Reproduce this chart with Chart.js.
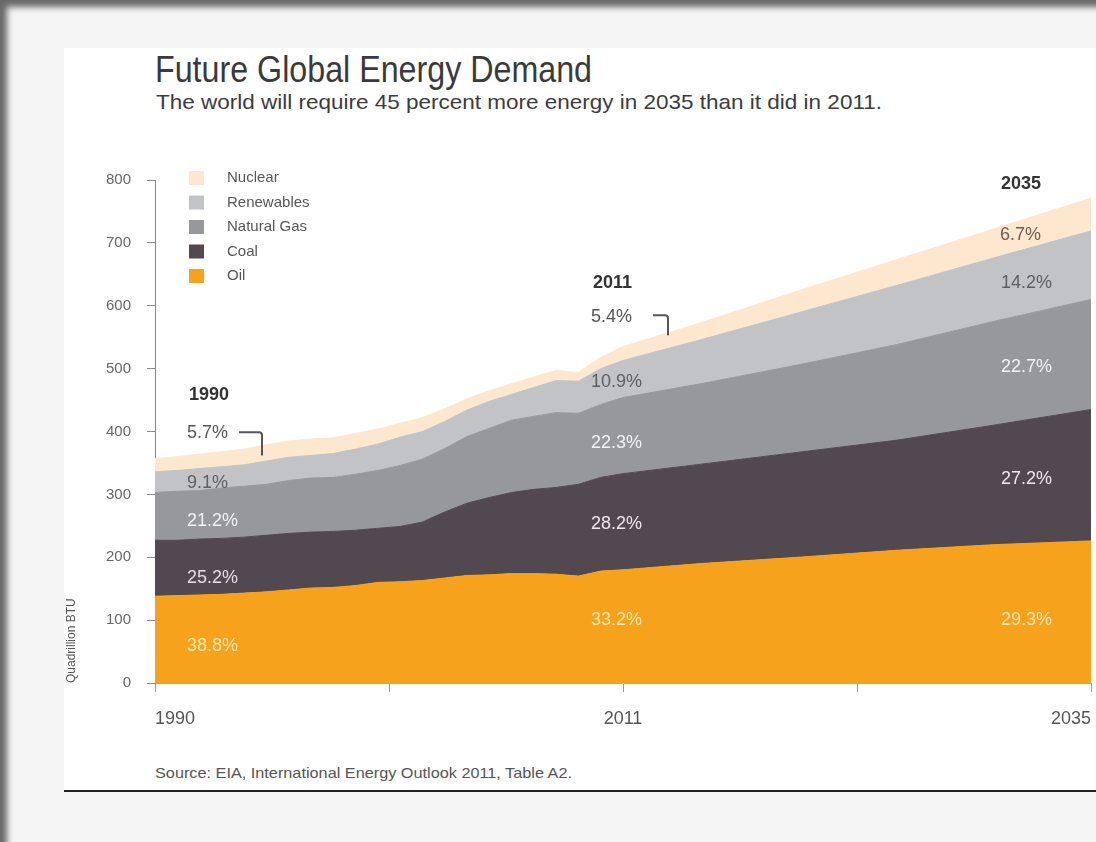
<!DOCTYPE html>
<html>
<head>
<meta charset="utf-8">
<title>Future Global Energy Demand</title>
<script src="https://cdn.jsdelivr.net/npm/chart.js@4.4.1/dist/chart.umd.min.js"></script>
<style>
  html, body { margin: 0; padding: 0; width: 1096px; height: 842px; overflow: hidden; background: #f5f5f5; }
  body { font-family: "Liberation Sans", Arial, sans-serif; }
  #frame { position: absolute; left: 0; top: 0; width: 1096px; height: 842px; box-shadow: inset 8px 8px 6px -1px rgba(70,70,70,0.8); }
  #card { position: absolute; left: 64px; top: 48px; width: 1032px; height: 742px; background: #fff; border-bottom: 2px solid #222; }
  .txt { position: absolute; white-space: nowrap; transform-origin: 0 50%; line-height: 1; }
  #title { left: 155px; top: 52px; font-size: 36px; color: #3a3a3a; }
  #subtitle { left: 156px; top: 91px; font-size: 21px; color: #3c3c3c; }
  #source { left: 155px; top: 765px; font-size: 15px; color: #555; }
  #wrap { position: absolute; left: 64px; top: 150px; width: 1043px; height: 580px; }
</style>
</head>
<body>
<div id="frame"></div>
<div id="card"></div>
<div class="txt" id="title">Future Global Energy Demand</div>
<div class="txt" id="subtitle">The world will require 45 percent more energy in 2035 than it did in 2011.</div>
<div class="txt" id="source">Source: EIA, International Energy Outlook 2011, Table A2.</div>
<div id="wrap"><canvas id="chart"></canvas></div>
<script>
// quadrillion BTU
const years = [1990, 1991, 1992, 1993, 1994, 1995, 1996, 1997, 1998, 1999, 2000,
  2001, 2002, 2003, 2004, 2005, 2006, 2007, 2008, 2009, 2010, 2011,
  2015, 2020, 2025, 2030, 2035];
const oil = [138, 139, 140, 141, 143, 145, 148, 151, 152, 155, 160,
  161, 163, 167, 171, 172, 174, 174, 173, 170, 178, 180,
  190, 200, 211, 220, 226];
const coal = [89, 88, 89, 89, 89, 90, 90, 89, 89, 88, 86,
  88, 93, 105, 115, 123, 129, 134, 138, 146, 149, 153,
  158, 167, 175, 190, 209];
const gas = [76, 78, 77, 80, 81, 81, 84, 86, 86, 89, 92,
  97, 100, 101, 106, 110, 115, 116, 119, 113, 116, 121,
  128, 139, 152, 165, 175];
const renewables = [33, 33, 35, 34, 34, 37, 37, 36, 38, 40, 42,
  45, 44, 43, 42, 43, 41, 46, 51, 51, 57, 59,
  70, 83, 94, 101, 109];
const nuclear = [21, 22, 23, 24, 25, 26, 26, 26, 25, 25, 24,
  22, 22, 20, 18, 17, 17, 17, 16, 14, 18, 22,
  27, 35, 41, 46, 52];

const seriesNames = ['Oil', 'Coal', 'Natural Gas', 'Renewables', 'Nuclear'];
const seriesColors = ['#f6a21c', '#524950', '#97989c', '#c2c3c7', '#fde8cf'];
const xTickLabels = ['1990', '', '2011', '', '2035'];

// the axis gives 1990-2011 and 2011-2035 the same width
function axisPos(year) {
  return year <= 2011 ? (year - 1990) / 10.5 : 2 + (year - 2011) / 12;
}

function fitWidth(id, target) {
  const el = document.getElementById(id);
  const w = el.getBoundingClientRect().width;
  el.style.transform = 'scaleX(' + (target / w) + ')';
}
fitWidth('title', 437);
fitWidth('subtitle', 726);
fitWidth('source', 417);

const notes = [
  { year: 1990, dx: 34, v: 458, text: '1990', color: '#333', bold: true },
  { year: 1990, dx: 32, v: 398, text: '5.7%', color: '#555' },
  { year: 1990, dx: 32, v: 318, text: '9.1%', color: '#5e5e63' },
  { year: 1990, dx: 32, v: 258, text: '21.2%', color: '#f2f2f2' },
  { year: 1990, dx: 32, v: 167, text: '25.2%', color: '#e4dfe4' },
  { year: 1990, dx: 32, v: 59, text: '38.8%', color: '#fde7b2' },
  { year: 2011, dx: -30, v: 636, text: '2011', color: '#333', bold: true },
  { year: 2011, dx: -32, v: 582, text: '5.4%', color: '#555' },
  { year: 2011, dx: -32, v: 479, text: '10.9%', color: '#5e5e63' },
  { year: 2011, dx: -32, v: 382, text: '22.3%', color: '#f2f2f2' },
  { year: 2011, dx: -32, v: 253, text: '28.2%', color: '#ece8ec' },
  { year: 2011, dx: -32, v: 100, text: '33.2%', color: '#fde7b2' },
  { year: 2035, dx: -90, v: 793, text: '2035', color: '#333', bold: true },
  { year: 2035, dx: -91, v: 712, text: '6.7%', color: '#6b5d50' },
  { year: 2035, dx: -90, v: 636, text: '14.2%', color: '#5e5e63' },
  { year: 2035, dx: -90, v: 502, text: '22.7%', color: '#f2f2f2' },
  { year: 2035, dx: -90, v: 324, text: '27.2%', color: '#ece8ec' },
  { year: 2035, dx: -90, v: 100, text: '29.3%', color: '#fde7b2' }
];
const brackets = [
  { year: 1990, dx1: 84, dx2: 107, v1: 399, v2: 362 },
  { year: 2011, dx1: 30, dx2: 45, v1: 585, v2: 553 }
];

const notesPlugin = {
  id: 'notes',
  afterDatasetsDraw(chart) {
    const ctx = chart.ctx;
    const xs = chart.scales.x, ys = chart.scales.y;
    ctx.save();
    ctx.textBaseline = 'middle';
    ctx.textAlign = 'left';
    notes.forEach(n => {
      ctx.font = (n.bold ? 'bold ' : '') + '18px "Liberation Sans", Arial, sans-serif';
      ctx.fillStyle = n.color;
      ctx.fillText(n.text, xs.getPixelForValue(axisPos(n.year)) + n.dx, ys.getPixelForValue(n.v));
    });
    ctx.strokeStyle = '#555';
    ctx.lineWidth = 2;
    brackets.forEach(b => {
      const x0 = xs.getPixelForValue(axisPos(b.year));
      const y1 = ys.getPixelForValue(b.v1), y2 = ys.getPixelForValue(b.v2);
      ctx.beginPath();
      ctx.moveTo(x0 + b.dx1, y1);
      ctx.lineTo(x0 + b.dx2 - 3, y1);
      ctx.quadraticCurveTo(x0 + b.dx2, y1, x0 + b.dx2, y1 + 3);
      ctx.lineTo(x0 + b.dx2, y2);
      ctx.stroke();
    });
    ctx.restore();
  }
};

const legendPlugin = {
  id: 'cornerLegend',
  afterDraw(chart) {
    const ctx = chart.ctx, area = chart.chartArea;
    ctx.save();
    ctx.font = '15px "Liberation Sans", Arial, sans-serif';
    ctx.textBaseline = 'middle';
    for (let i = 0; i < seriesNames.length; i++) {
      const k = seriesNames.length - 1 - i;
      const y = area.top - 2 + i * 24.5;
      ctx.fillStyle = seriesColors[k];
      ctx.fillRect(area.left + 34, y - 7, 15, 14);
      ctx.fillStyle = '#555';
      ctx.fillText(seriesNames[k], area.left + 72, y);
    }
    ctx.restore();
  }
};

const datasets = [oil, coal, gas, renewables, nuclear].map((values, i) => ({
  label: seriesNames[i],
  data: values.map((v, j) => ({ x: axisPos(years[j]), y: v })),
  backgroundColor: seriesColors[i],
  borderColor: seriesColors[i],
  borderWidth: 1,
  pointRadius: 0,
  tension: 0,
  fill: i === 0 ? 'origin' : '-1'
}));

new Chart(document.getElementById('chart'), {
  type: 'line',
  data: { datasets: datasets },
  options: {
    responsive: true,
    maintainAspectRatio: false,
    animation: false,
    layout: { padding: { top: 30, right: 3, left: 0, bottom: 0 } },
    plugins: { legend: { display: false }, tooltip: { enabled: false } },
    scales: {
      x: {
        type: 'linear',
        min: 0,
        max: 4,
        afterFit: s => { s.height = 47; },
        ticks: {
          stepSize: 1,
          align: 'inner',
          padding: 16,
          color: '#555',
          font: { size: 18, family: '"Liberation Sans", Arial, sans-serif' },
          callback: v => xTickLabels[v]
        },
        grid: { drawOnChartArea: false, tickLength: 9, color: '#999' },
        border: { color: '#aaa' }
      },
      y: {
        stacked: true,
        min: 0,
        max: 800,
        afterFit: s => { s.width = 91; },
        ticks: {
          stepSize: 100,
          padding: 16,
          color: '#666',
          font: { size: 15, family: '"Liberation Sans", Arial, sans-serif' }
        },
        grid: { drawOnChartArea: false, tickLength: 8, color: '#888' },
        border: { color: '#888' },
        title: {
          display: true,
          text: 'Quadrillion BTU',
          align: 'start',
          color: '#555',
          padding: 0,
          font: { size: 12, family: '"Liberation Sans", Arial, sans-serif' }
        }
      }
    }
  },
  plugins: [notesPlugin, legendPlugin]
});
</script>
</body>
</html>
